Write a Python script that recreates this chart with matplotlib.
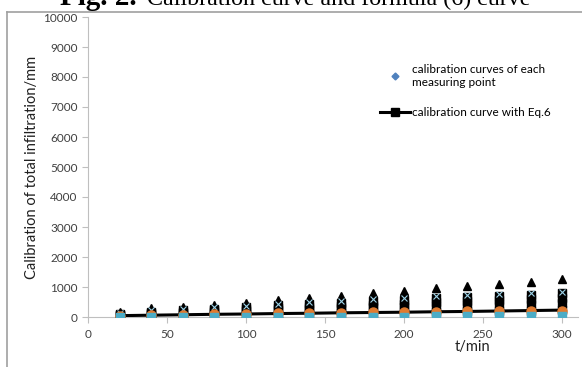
import matplotlib
matplotlib.use('Agg')
import matplotlib.pyplot as plt
from matplotlib.lines import Line2D

plt.rcParams['font.family'] = ['Lato', 'DejaVu Sans']

# time in minutes
t = [20, 40, 60, 80, 100, 120, 140, 160, 180, 200, 220, 240, 260, 280, 300]

blue_pts = [90, 160, 200, 250, 290, 340, 390, 420, 460, 500, 540, 580, 610, 640, 680]
tri_pts = [180, 290, 340, 400, 460, 570, 640, 710, 790, 880, 955, 1045, 1100, 1180, 1270]
black1 = [110, 180, 230, 280, 330, 390, 440, 480, 530, 580, 630, 680, 710, 750, 790]
black2 = [80, 140, 180, 220, 260, 300, 340, 370, 410, 450, 490, 530, 560, 590, 620]
black3 = [60, 110, 140, 170, 200, 230, 260, 290, 320, 350, 380, 410, 430, 450, 470]
cross_pts = [150, 220, 270, 320, 370, 440, 490, 530, 590, 640, 690, 740, 770, 810, 840]
orange_pts = [30, 60, 80, 100, 110, 130, 140, 150, 160, 170, 180, 190, 200, 200, 210]
green_pts = [0, 2, 2, 3, 3, 4, 4, 5, 5, 5, 6, 6, 6, 7, 7]
cyan_pts = [5, 8, 10, 12, 12, 14, 15, 15, 16, 16, 18, 18, 18, 20, 20]

# calibration curve with Eq.6
eq6 = [45, 60, 75, 90, 100, 115, 125, 140, 150, 160, 175, 185, 200, 215, 230]

fig = plt.figure(figsize=(5.82, 3.67), dpi=100)
ax = fig.add_axes([88/582, 1-317/367, 490/582, 300/367])

ax.plot(t, blue_pts, 'D', color='#4F81BD', ms=4, ls='none', zorder=2)
ax.plot(t, black3, 's', color='black', ms=6, ls='none', zorder=3)
ax.plot(t, black2, 's', color='black', ms=6, ls='none', zorder=3)
ax.plot(t, black1, 's', color='black', ms=6, ls='none', zorder=3)
ax.plot(t, tri_pts, '^', color='black', ms=6, ls='none', zorder=3)
ax.plot(t, cross_pts, 'x', color='#9DD3E8', ms=5, mew=0.8, ls='none', zorder=4)
ax.plot(t, eq6, '-s', color='black', lw=2.2, ms=6, zorder=5)
ax.plot(t, orange_pts, 'o', color='#E07B30', ms=6.5, ls='none', zorder=6)
ax.plot(t, green_pts, '^', color='#9BBB59', ms=6, ls='none', zorder=6)
ax.plot(t, cyan_pts, 's', color='#4BACC6', ms=5.5, ls='none', zorder=7)

ax.set_xlim(0, 310)
ax.set_ylim(0, 10000)
ax.set_xticks(range(0, 301, 50))
ax.set_yticks(range(0, 10001, 1000))
for s in ['top', 'right']:
    ax.spines[s].set_visible(False)
for s in ['left', 'bottom']:
    ax.spines[s].set_color('#BFBFBF')
ax.tick_params(axis='both', colors='#BFBFBF', labelcolor='#404040', labelsize=8.5, length=4, direction='out')
ax.tick_params(axis='x', pad=5)

ax.set_ylabel('Calibration of total infiltration/mm', fontsize=10.5, color='#202020', labelpad=3)
fig.text(472/582, 1-347/367, 't/min', fontsize=10.5, color='#202020', ha='center', va='center')

handles = [Line2D([], [], marker='D', color='#4F81BD', ls='none', ms=3.5),
           Line2D([], [], marker='s', color='black', lw=2.2, ms=6)]
labels = ['calibration curves of each\nmeasuring point', 'calibration curve with Eq.6']
ax.legend(handles, labels, loc='upper left', bbox_to_anchor=(0.596, 0.843), frameon=False,
          fontsize=8.5, handlelength=2.5, handletextpad=0.2, borderpad=0, borderaxespad=0,
          labelspacing=1.65)

# page border and cropped caption
fig.add_artist(Line2D([7/582, 1], [1-12/367, 1-12/367], color='#A0A0A0', lw=1.2))
fig.add_artist(Line2D([7/582, 7/582], [0, 1-12/367], color='#A0A0A0', lw=1.2))
t1 = fig.text(60/582, 1-5/367, 'Fig. 2.', fontsize=20, family='Liberation Serif',
              weight='bold', va='baseline', ha='left')
t2 = fig.text(147/582, 1-5/367, 'Calibration curve and formula (6) curve', fontsize=18,
              family='Liberation Serif', va='baseline', ha='left')

# scale caption pieces to the widths seen in the picture
fig.canvas.draw()
r = fig.canvas.get_renderer()
for txt, w in [(t1, 77), (t2, 384)]:
    cur = txt.get_window_extent(r).width
    txt.set_fontsize(txt.get_fontsize() * w / cur)

fig.savefig('out.png', dpi=100)
